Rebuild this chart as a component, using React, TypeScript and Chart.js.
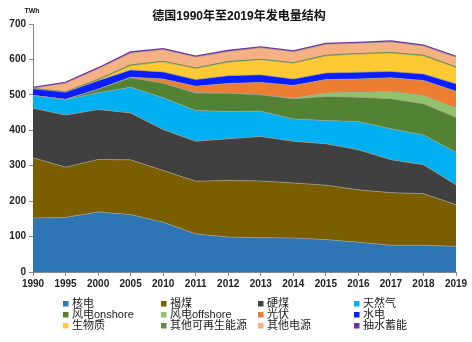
import React, { useEffect, useRef } from 'react';
import { Chart, registerables } from 'chart.js';

Chart.register(...registerables);

const titleText = '德国1990年至2019年发电量结构';
const unitText = 'TWh';

const years = ['1990', '1995', '2000', '2005', '2010', '2011', '2012', '2013', '2014', '2015', '2016', '2017', '2018', '2019'];

const nuclear = [152.5, 154, 169.5, 162, 140.5, 107.5, 98.5, 97, 96, 91.5, 84, 75.5, 75.5, 72.5];
const lignite = [170, 142, 148, 154.5, 146, 149, 160, 160, 155.5, 153.5, 148, 148.5, 145.5, 117.5];
const hardCoal = [139.5, 147, 141, 132.5, 115.5, 112.5, 117.5, 125.5, 117.5, 117, 113, 93, 82, 56];
const gas = [36, 43, 47.5, 72.5, 90, 87, 77, 71.5, 63, 65.5, 79.5, 87, 84, 92];
const windOnshore = [0, 1, 9.5, 27, 41, 49.5, 51.5, 46, 57, 68, 69, 85, 88, 99];
const windOffshore = [0, 0, 0, 0, 0.2, 0.6, 0.7, 1, 1.5, 9.5, 14, 20.5, 23, 26];
const solar = [0, 0, 0, 1.5, 11.5, 18, 27, 34, 36, 38, 37.5, 38.5, 42.5, 47];
const hydro = [19, 20.5, 24.5, 20.5, 20, 19, 22, 21.5, 18.5, 19, 19, 18, 18.5, 21];
const biomass = [0, 0.5, 2, 12, 28.5, 31, 38, 42.5, 44, 48, 51, 52, 51, 46];
const otherRenewables = [0, 0, 0.5, 1, 1, 1, 1, 1, 1, 1, 1, 1, 1, 1];
const otherFossil = [2, 25, 31, 34.5, 33.5, 31.5, 29, 33, 31.5, 31.5, 29.5, 30.5, 27, 28.5];
const pumpedStorage = [1, 1.5, 1.5, 2, 2, 2, 2, 1.5, 1.5, 1.5, 1.5, 1.5, 1.5, 1.5];

const seriesLabels = ['核电', '褐煤', '硬煤', '天然气', '风电onshore', '风电offshore', '光伏', '水电', '生物质', '其他可再生能源', '其他电源', '抽水蓄能'];
const seriesValues = [nuclear, lignite, hardCoal, gas, windOnshore, windOffshore, solar, hydro, biomass, otherRenewables, otherFossil, pumpedStorage];
const seriesColors = ['#2E75B6', '#7B5E00', '#404040', '#00B0F0', '#548235', '#92C36A', '#ED7D31', '#0A1EFF', '#FFC934', '#5E8E3E', '#F4B183', '#7030A0'];

const FONT = '"Liberation Sans", Arial, "Noto Sans CJK SC", sans-serif';

const overlayPlugin = {
  id: 'overlayText',
  afterDraw(chart: any) {
    const ctx = chart.ctx;
    ctx.save();
    // title
    ctx.fillStyle = '#111';
    ctx.textAlign = 'center';
    ctx.textBaseline = 'middle';
    ctx.font = 'bold 12px ' + FONT;
    ctx.fillText(titleText, 239, 17);
    // unit
    ctx.font = 'bold 7px ' + FONT;
    ctx.fillText(unitText, 32, 11);
    // legend grid
    const colX = [63, 161, 258, 354];
    const rowY = [304, 315, 326];
    ctx.textAlign = 'left';
    ctx.font = '11px ' + FONT;
    chart.data.datasets.forEach((ds: any, i: number) => {
      const c = i % 4;
      const r = Math.floor(i / 4);
      ctx.fillStyle = ds.backgroundColor;
      ctx.fillRect(colX[c], rowY[r] - 3, 5.5, 5.5);
      ctx.fillStyle = '#1a1a1a';
      ctx.fillText(ds.label, colX[c] + 9, rowY[r]);
    });
    ctx.restore();
  },
};

export default function App() {
  const ref = useRef<HTMLCanvasElement>(null);
  useEffect(() => {
    if (!ref.current) return;
    const datasets = seriesValues.map((vals, i) => {
      let borderColor = 'rgba(160,160,140,0.85)';
      let borderWidth = 0.8;
      if (i === 9) { borderColor = '#5E8E3E'; borderWidth = 1.6; }
      if (i === 11) { borderColor = '#7030A0'; borderWidth = 2; }
      return {
        label: seriesLabels[i],
        data: vals,
        backgroundColor: seriesColors[i],
        borderColor,
        borderWidth,
        fill: i === 0 ? 'origin' : '-1',
        pointRadius: 0,
        tension: 0,
      };
    });
    const chart = new Chart(ref.current, {
      type: 'line',
      data: { labels: years, datasets },
      options: {
        animation: false,
        responsive: false,
        layout: { padding: { top: 24, right: 16, bottom: 50, left: 0 } },
        plugins: {
          legend: { display: false },
          title: { display: false },
          tooltip: { enabled: false },
        },
        scales: {
          x: {
            type: 'category',
            offset: false,
            afterFit: (s: any) => { s.height = 20; },
            grid: { display: true, drawOnChartArea: false, drawTicks: true, tickLength: 4, color: '#888' },
            border: { display: true, color: '#888', width: 1 },
            ticks: { autoSkip: false, maxRotation: 0, padding: 2, color: '#222', font: { family: FONT, size: 10, weight: 'bold' } },
          },
          y: {
            stacked: true,
            min: 0,
            max: 700,
            afterFit: (s: any) => { s.width = 33; },
            grid: { display: true, drawOnChartArea: false, drawTicks: true, tickLength: 4, color: '#888' },
            border: { display: true, color: '#888', width: 1 },
            ticks: { stepSize: 100, padding: 3, color: '#222', font: { family: FONT, size: 10, weight: 'bold' } },
          },
        },
      },
      plugins: [overlayPlugin],
    } as any);
    return () => chart.destroy();
  }, []);
  return (
    <div style={{ position: 'absolute', left: 0, top: 0, width: 472, height: 342, background: '#fff' }}>
      <canvas ref={ref} width={472} height={342} />
    </div>
  );
}
